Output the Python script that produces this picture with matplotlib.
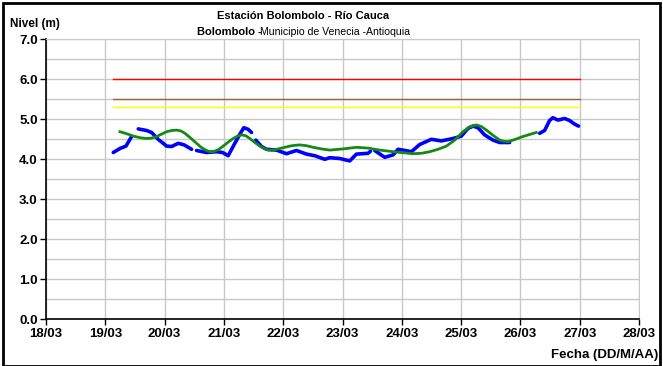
import matplotlib.pyplot as plt
from matplotlib.patches import Rectangle
import numpy as np

plt.rcParams['font.family'] = ['Liberation Sans', 'DejaVu Sans']

# fechas como dia de marzo (fraccion de dia)
nivel_t = [19.134, 19.247, 19.348, 19.444, np.nan,
           19.555, 19.697, 19.781, 19.892, 20.034, 20.118, 20.229, 20.330, 20.455, np.nan,
           20.539, 20.708, 20.876, 20.977, 21.072, 21.184, 21.269, 21.336, 21.409, 21.466, np.nan,
           21.538, 21.634, 21.719, 21.887, 22.056, 22.224, 22.393, 22.532, 22.701, 22.785,
           22.954, 23.122, 23.235, 23.431, 23.471, np.nan,
           23.543, 23.712, 23.852, 23.936, 24.020, 24.162, 24.302, 24.499, 24.667, 24.863,
           25.004, 25.115, 25.200, 25.284, 25.397, 25.537, 25.650, 25.818, np.nan,
           26.324, 26.408, 26.492, 26.548, 26.632, 26.745, 26.829, 26.913, 26.981]
nivel = [4.17, 4.27, 4.33, 4.57, np.nan,
         4.76, 4.72, 4.67, 4.50, 4.33, 4.32, 4.40, 4.36, 4.25, np.nan,
         4.22, 4.17, 4.19, 4.17, 4.09, 4.40, 4.63, 4.79, 4.75, 4.67, np.nan,
         4.48, 4.32, 4.25, 4.23, 4.14, 4.22, 4.13, 4.09, 4.00, 4.04,
         4.02, 3.96, 4.13, 4.15, 4.20, np.nan,
         4.22, 4.05, 4.11, 4.25, 4.23, 4.19, 4.37, 4.50, 4.46, 4.52,
         4.58, 4.77, 4.83, 4.79, 4.61, 4.48, 4.42, 4.42, np.nan,
         4.65, 4.72, 4.97, 5.04, 4.98, 5.02, 4.97, 4.88, 4.83]

tend_t = [19.247, 19.360, 19.472, 19.585, 19.697, 19.780, 19.866, 19.950, 20.034, 20.118,
          20.203, 20.273, 20.343, 20.440, 20.539, 20.623, 20.708, 20.764, 20.820, 20.905,
          20.989, 21.073, 21.157, 21.227, 21.297, 21.367, 21.438, 21.522, 21.607, 21.677,
          21.747, 21.817, 21.887, 22.000, 22.112, 22.196, 22.281, 22.393, 22.505, 22.645,
          22.785, 23.010, 23.235, 23.431, 23.628, 23.909, 24.190, 24.330, 24.471, 24.611,
          24.752, 24.892, 25.032, 25.145, 25.257, 25.341, 25.426, 25.538, 25.650, 25.720,
          25.790, 25.917, 26.043, 26.155, 26.268]
tend = [4.69, 4.64, 4.58, 4.54, 4.52, 4.53, 4.57, 4.63, 4.69, 4.72,
        4.73, 4.71, 4.65, 4.53, 4.40, 4.29, 4.22, 4.19, 4.19, 4.24,
        4.33, 4.43, 4.52, 4.58, 4.61, 4.59, 4.52, 4.42, 4.33, 4.27,
        4.23, 4.23, 4.25, 4.29, 4.33, 4.35, 4.36, 4.34, 4.30, 4.26,
        4.23, 4.26, 4.30, 4.28, 4.23, 4.18, 4.14, 4.15, 4.19, 4.25,
        4.33, 4.48, 4.69, 4.81, 4.86, 4.82, 4.73, 4.60, 4.48, 4.45,
        4.44, 4.50, 4.57, 4.62, 4.67]

umbral_t = [19.125, 27.0]
umbral_rojo = 6.0
umbral_naranja = 5.5
umbral_amarillo = 5.3

dias = list(range(18, 29))
etiquetas = ['%02d/03' % d for d in dias]

fig = plt.figure(figsize=(6.63, 3.66), dpi=100)
ax = fig.add_axes([0.0694, 0.1276, 0.8944, 0.765])

ax.plot(umbral_t, [umbral_rojo] * 2, color='#ff0000', lw=1.0)
ax.plot(umbral_t, [umbral_naranja] * 2, color='#996633', lw=1.0)
ax.plot(umbral_t, [umbral_amarillo] * 2, color='#ffff00', lw=1.0)
ax.plot(nivel_t, nivel, color='#0000ff', lw=2.6, solid_capstyle='round')
ax.plot(tend_t, tend, color='#138a13', lw=2.0)

ax.set_xlim(18, 28)
ax.set_ylim(0, 7)
ax.set_xticks(dias)
ax.set_xticklabels(etiquetas, fontsize=9.5, fontweight='bold')
ax.set_yticks(np.arange(0, 7.01, 1.0))
ax.set_yticklabels(['%.1f' % v for v in np.arange(0, 7.01, 1.0)], fontsize=9.5, fontweight='bold')
ax.set_yticks(np.arange(0.5, 7, 1.0), minor=True)
ax.tick_params(axis='y', which='minor', length=0)
ax.tick_params(axis='both', which='major', length=4, width=1, direction='out', pad=2)
ax.grid(True, which='both', color='#c8c8c8', lw=1.0)
ax.set_axisbelow(True)
for s in ['top', 'right']:
    ax.spines[s].set_color('#c8c8c8')
for s in ['left', 'bottom']:
    ax.spines[s].set_color('black')
    ax.spines[s].set_linewidth(1.2)

fig.text(0.015, 0.935, 'Nivel (m)', fontsize=8.5, fontweight='bold', va='center', ha='left')
fig.text(0.457, 0.955, 'Estación Bolombolo - Río Cauca', fontsize=8, fontweight='bold',
         va='center', ha='center')
fig.text(0.297, 0.912, 'Bolombolo -', fontsize=8, fontweight='bold', va='center', ha='left')
fig.text(0.392, 0.912, 'Municipio de Venecia -Antioquia', fontsize=7.6, va='center', ha='left')
fig.text(0.993, 0.03, 'Fecha (DD/M/AA)', fontsize=9.5, fontweight='bold', va='center', ha='right')

fig.patches.append(Rectangle((0.004, 0.0), 0.992, 0.993, transform=fig.transFigure,
                             fill=False, edgecolor='black', lw=2))

fig.savefig('out.png', dpi=100)
